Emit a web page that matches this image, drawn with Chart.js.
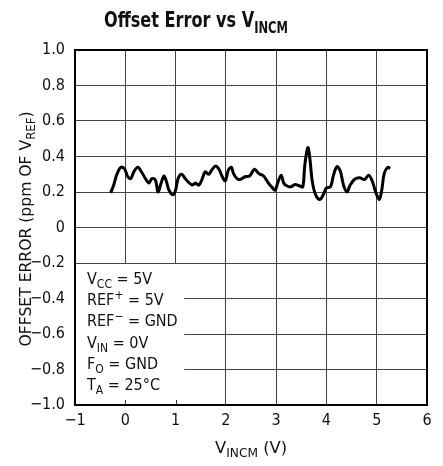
<!DOCTYPE html>
<html>
<head>
<meta charset="utf-8">
<script src="https://cdn.jsdelivr.net/npm/chart.js@4.4.1/dist/chart.umd.min.js"></script>
<style>
  html, body { margin: 0; padding: 0; background: #fff; }
  canvas { display: block; }
</style>
</head>
<body>
<canvas id="offsetChart" width="443" height="466"></canvas>
<script>
// Valeurs (V_INCM en V, erreur en ppm de V_REF)
const vIncm = [
  -0.29, -0.23, -0.16, -0.08, -0.01, 0.05, 0.11, 0.17, 0.25, 0.32,
  0.40, 0.47, 0.53, 0.60, 0.65, 0.71, 0.77, 0.82, 0.87, 0.95,
  1.00, 1.05, 1.12, 1.19, 1.25, 1.33, 1.40, 1.46, 1.52, 1.59,
  1.66, 1.72, 1.80, 1.87, 1.93, 1.99, 2.05, 2.11, 2.15, 2.22,
  2.28, 2.38, 2.47, 2.57, 2.65, 2.75, 2.85, 2.91, 2.98, 3.03,
  3.10, 3.15, 3.21, 3.29, 3.375, 3.47, 3.53, 3.57, 3.63, 3.67,
  3.72, 3.79, 3.87, 3.93, 4.00, 4.08, 4.14, 4.21, 4.28, 4.34,
  4.41, 4.47, 4.56, 4.66, 4.76, 4.84, 4.91, 4.98, 5.05, 5.10,
  5.15, 5.22, 5.27
];
const offsetErr = [
  0.195, 0.24, 0.305, 0.34, 0.328, 0.286, 0.276, 0.314, 0.339, 0.314,
  0.276, 0.251, 0.276, 0.267, 0.20, 0.248, 0.29, 0.257, 0.21, 0.185,
  0.21, 0.276, 0.30, 0.276, 0.257, 0.24, 0.25, 0.238, 0.267, 0.314,
  0.30, 0.324, 0.347, 0.324, 0.286, 0.263, 0.324, 0.339, 0.305, 0.276,
  0.27, 0.286, 0.29, 0.328, 0.305, 0.29, 0.248, 0.229, 0.21, 0.251,
  0.295, 0.251, 0.235, 0.229, 0.242, 0.234, 0.229, 0.352, 0.451, 0.39,
  0.257, 0.181, 0.158, 0.181, 0.223, 0.229, 0.295, 0.343, 0.314, 0.238,
  0.20, 0.238, 0.272, 0.28, 0.27, 0.295, 0.262, 0.20, 0.157, 0.21,
  0.305, 0.339, 0.333
];
const xTickLabels = ['\u22121', '0', '1', '2', '3', '4', '5', '6'];
const yTickLabels = ['\u22121.0', '\u22120.8', '\u22120.6', '\u22120.4', '\u22120.2', '0',
                     '0.2', '0.4', '0.6', '0.8', '1.0'];
// Conditions de test (texte, indice/exposant)
const conditions = [
  [['V', 'n'], ['CC', 'sub'], [' = 5V', 'n']],
  [['REF', 'n'], ['+', 'sup'], [' = 5V', 'n']],
  [['REF', 'n'], ['\u2212', 'sup'], [' = GND', 'n']],
  [['V', 'n'], ['IN', 'sub'], [' = 0V', 'n']],
  [['F', 'n'], ['O', 'sub'], [' = GND', 'n']],
  [['T', 'n'], ['A', 'sub'], [' = 25\u00B0C', 'n']]
];

const FONT = "'Liberation Sans Narrow', 'DejaVu Sans Condensed', 'Roboto Condensed', sans-serif";

// Dessine une suite de morceaux de texte avec indices / exposants.
// Si targetW est donné, le texte est étiré horizontalement à cette largeur.
function drawRuns(ctx, runs, x, y, size, weight, align, targetW) {
  const small = Math.round(size * 0.72);
  const widths = runs.map(([t, m]) => {
    ctx.font = weight + ' ' + (m === 'n' ? size : small) + 'px ' + FONT;
    return ctx.measureText(t).width;
  });
  const total = widths.reduce((a, b) => a + b, 0);
  const sx = targetW ? targetW / total : 1;
  ctx.save();
  ctx.translate(align === 'center' ? x - total * sx / 2 : x, y);
  ctx.scale(sx, 1);
  ctx.textAlign = 'left';
  ctx.textBaseline = 'alphabetic';
  let cx = 0;
  runs.forEach(([t, m], i) => {
    ctx.font = weight + ' ' + (m === 'n' ? size : small) + 'px ' + FONT;
    let dy = 0;
    if (m === 'sub') dy = size * 0.28;
    if (m === 'sup') dy = -size * 0.38;
    ctx.fillText(t, cx, dy);
    cx += widths[i];
  });
  ctx.restore();
}

const decorPlugin = {
  id: 'decor',
  beforeDatasetsDraw(chart) {
    const { ctx, chartArea: a, scales: { x, y } } = chart;
    const boxRight = x.getPixelForValue(1.17);
    const boxTop = y.getPixelForValue(-0.2);
    ctx.save();
    ctx.fillStyle = '#fff';
    ctx.fillRect(a.left + 1, boxTop + 1, boxRight - a.left - 1, a.bottom - boxTop - 2);
    // petites graduations en bas dans la zone de la légende
    ctx.strokeStyle = '#333';
    ctx.lineWidth = 1;
    [0, 1].forEach(v => {
      const px = Math.round(x.getPixelForValue(v)) + 0.5;
      ctx.beginPath();
      ctx.moveTo(px, a.bottom);
      ctx.lineTo(px, a.bottom - 5);
      ctx.stroke();
    });
    // cadre
    ctx.strokeStyle = '#000';
    ctx.lineWidth = 2;
    ctx.strokeRect(a.left, a.top, a.right - a.left, a.bottom - a.top);
    ctx.restore();
  },
  afterDraw(chart) {
    const { ctx, chartArea: a, scales: { y } } = chart;
    ctx.save();
    ctx.fillStyle = '#111';
    // titre
    drawRuns(ctx, [['Offset Error vs V', 'n'], ['INCM', 'sub']], 104, 27, 21, 'bold', 'left', 184);
    // titre axe x
    drawRuns(ctx, [['V', 'n'], ['INCM', 'sub'], [' (V)', 'n']], 251, 453, 16, 'normal', 'center', 72);
    // titre axe y
    ctx.save();
    ctx.translate(31, 229);
    ctx.rotate(-Math.PI / 2);
    drawRuns(ctx, [['OFFSET ERROR (ppm OF V', 'n'], ['REF', 'sub'], [')', 'n']], 0, 0, 16, 'normal', 'center', 235);
    ctx.restore();
    // conditions
    const lx = a.left + 12;
    let ly = y.getPixelForValue(-0.2) + 21;
    conditions.forEach(line => {
      drawRuns(ctx, line, lx, ly, 16, 'normal', 'left');
      ly += 21.2;
    });
    ctx.restore();
  }
};

new Chart(document.getElementById('offsetChart'), {
  type: 'line',
  data: {
    datasets: [{
      label: 'Offset error',
      data: vIncm.map((v, i) => ({ x: v, y: offsetErr[i] })),
      borderColor: '#000',
      borderWidth: 3,
      pointRadius: 0,
      tension: 0.35,
      fill: false
    }]
  },
  options: {
    responsive: false,
    animation: false,
    layout: { padding: { top: 50, right: 16, left: 0, bottom: 0 } },
    plugins: { legend: { display: false }, tooltip: { enabled: false } },
    scales: {
      x: {
        type: 'linear',
        min: -1,
        max: 6,
        afterFit(scale) { scale.height = 61; },
        ticks: {
          stepSize: 1,
          color: '#111',
          padding: 6,
          font: { family: FONT, size: 16 },
          callback: (value, index) => xTickLabels[index]
        },
        grid: { color: '#444', lineWidth: 1, drawTicks: false },
        border: { display: false }
      },
      y: {
        type: 'linear',
        min: -1,
        max: 1,
        afterFit(scale) { scale.width = 75; },
        ticks: {
          stepSize: 0.2,
          color: '#111',
          padding: 10,
          font: { family: FONT, size: 16 },
          callback: (value, index) => yTickLabels[index]
        },
        grid: { color: '#444', lineWidth: 1, drawTicks: false },
        border: { display: false }
      }
    }
  },
  plugins: [decorPlugin]
});
</script>
</body>
</html>
